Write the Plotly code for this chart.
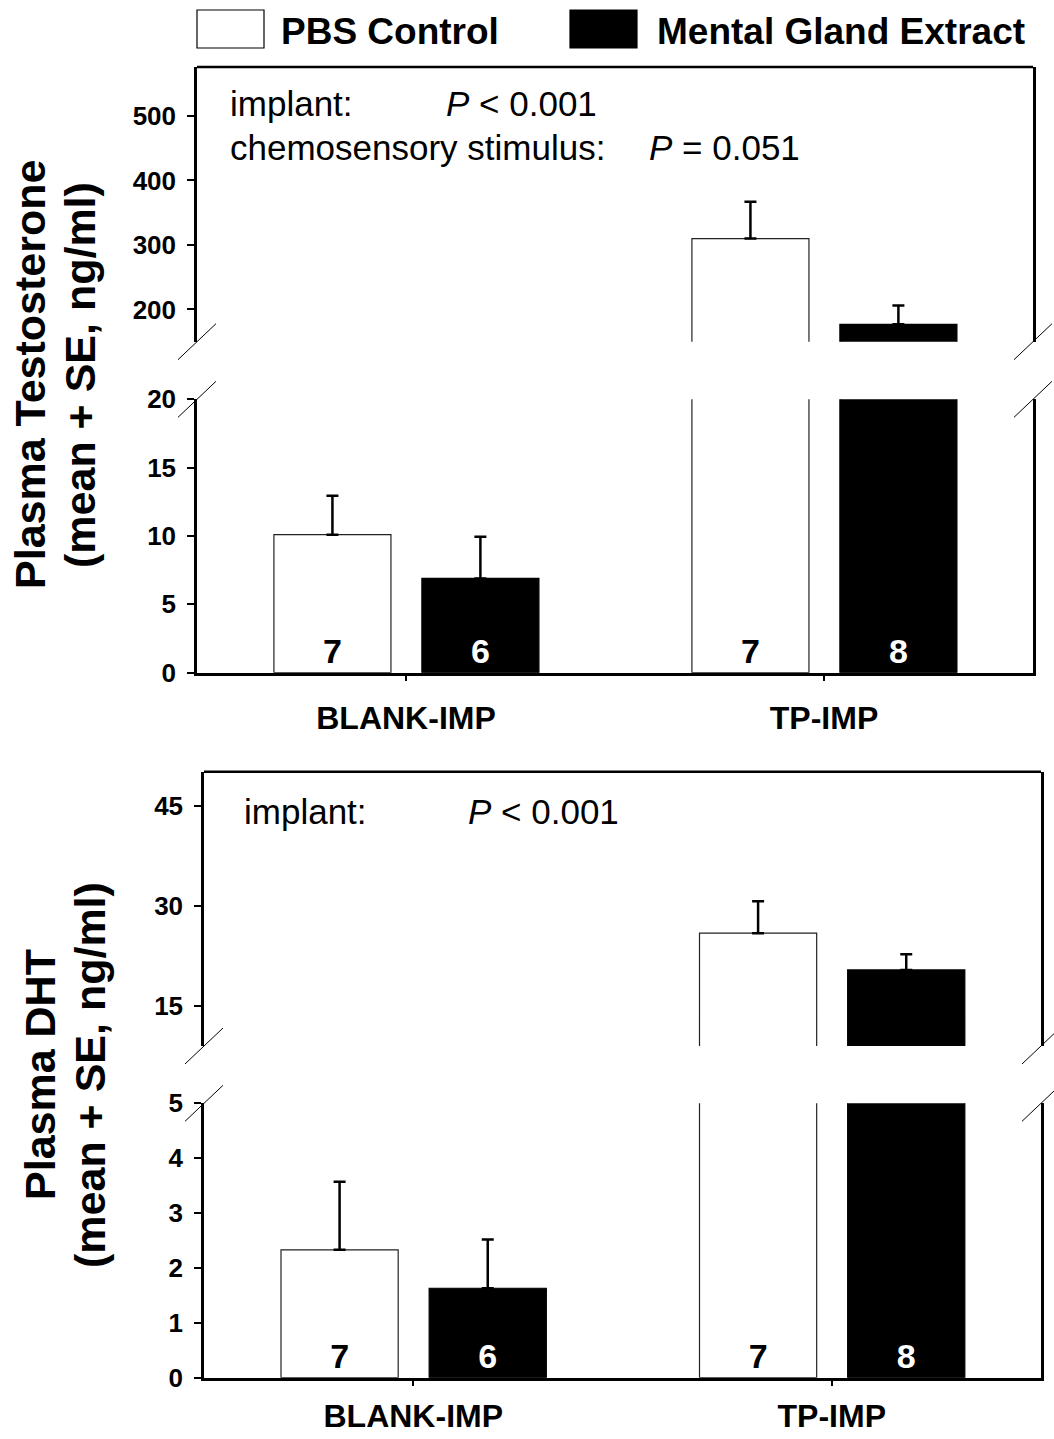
import plotly.graph_objects as go

# ---------------- data ----------------
groups = ["BLANK-IMP", "TP-IMP"]
series = ["PBS Control", "Mental Gland Extract"]

t_pbs_mean = [10.1, 310.0]
t_pbs_se = [2.85, 57.0]
t_mge_mean = [6.9, 177.0]
t_mge_se = [3.05, 29.0]

dht_pbs_mean = [2.33, 25.9]
dht_pbs_se = [1.24, 4.8]
dht_mge_mean = [1.63, 20.4]
dht_mge_se = [0.89, 2.35]

n_pbs = ["7", "7"]
n_mge = ["6", "8"]

t_upper_ticks = [200, 300, 400, 500]
t_lower_ticks = [0, 5, 10, 15, 20]
d_upper_ticks = [15, 30, 45]
d_lower_ticks = [0, 1, 2, 3, 4, 5]

# ---------------- layout geometry ----------------
W, H = 1054, 1439
FONT = "Liberation Sans, Arial, sans-serif"


def fx(px):
    return px / W


def fy(py):
    return 1 - py / H


BAR_W = 0.28
OFF_PBS = -0.316
OFF_MGE = 0.038

fig = go.Figure()


def add_bars(xa, ya, pbs_mean, pbs_se, mge_mean, mge_se, with_text):
    common = dict(xaxis=xa, yaxis=ya, width=BAR_W, showlegend=False,
                  cliponaxis=True, hoverinfo="skip")
    err = dict(type="data", symmetric=False, color="black", thickness=2.5, width=6)
    fig.add_trace(go.Bar(
        x=groups, y=pbs_mean, offset=OFF_PBS, name=series[0],
        marker=dict(color="white", line=dict(color="#222222", width=1.2)),
        error_y=dict(array=pbs_se, arrayminus=[0, 0], **err),
        text=n_pbs if with_text else None,
        textposition="inside" if with_text else "none",
        insidetextanchor="start", textangle=0,
        textfont=dict(family=FONT, size=34, color="black", weight="bold"),
        **common))
    fig.add_trace(go.Bar(
        x=groups, y=mge_mean, offset=OFF_MGE, name=series[1],
        marker=dict(color="black", line=dict(color="black", width=1.2)),
        error_y=dict(array=mge_se, arrayminus=[0, 0], **err),
        text=n_mge if with_text else None,
        textposition="inside" if with_text else "none",
        insidetextanchor="start", textangle=0,
        textfont=dict(family=FONT, size=34, color="white", weight="bold"),
        **common))


# top panel: y (lower 0-20), y2 (upper 150-576)
add_bars("x", "y", t_pbs_mean, t_pbs_se, t_mge_mean, t_mge_se, True)
add_bars("x", "y2", t_pbs_mean, t_pbs_se, t_mge_mean, t_mge_se, False)
# bottom panel: y3 (lower 0-5), y4 (upper 9-50)
add_bars("x2", "y3", dht_pbs_mean, dht_pbs_se, dht_mge_mean, dht_mge_se, True)
add_bars("x2", "y4", dht_pbs_mean, dht_pbs_se, dht_mge_mean, dht_mge_se, False)

tickfont = dict(family=FONT, size=26, color="black", weight="bold")
catfont = dict(family=FONT, size=32, color="black", weight="bold")
LW = 2.5


def yax(domain, rng, ticks, anchor):
    return dict(domain=domain, range=rng, tickvals=ticks, anchor=anchor,
                showline=True, linecolor="black", linewidth=LW, mirror=True,
                ticks="outside", ticklen=7, tickwidth=2, tickcolor="black",
                showgrid=False, zeroline=False, tickfont=tickfont,
                ticklabelstandoff=6, fixedrange=True, automargin=False)


def xax(domain, anchor, standoff):
    return dict(domain=domain, anchor=anchor, type="category",
                categoryorder="array", categoryarray=groups, range=[-0.5, 1.5],
                showline=True, linecolor="black", linewidth=LW, mirror=False,
                ticks="outside", ticklen=6, tickwidth=2, tickcolor="black",
                showgrid=False, zeroline=False, tickfont=catfont,
                ticklabelstandoff=standoff, fixedrange=True, automargin=False)


fig.update_layout(
    template="none",
    width=W, height=H,
    margin=dict(l=0, r=0, t=0, b=0, pad=0),
    paper_bgcolor="white", plot_bgcolor="rgba(0,0,0,0)",
    barmode="overlay",
    font=dict(family=FONT, color="black"),
    xaxis=xax([fx(197), fx(1033)], "y", 9),
    yaxis=yax([fy(672.7), fy(399.3)], [0, 20], t_lower_ticks, "x"),
    yaxis2=yax([fy(341.7), fy(67)], [150, 576], t_upper_ticks, "x"),
    xaxis2=xax([fx(204), fx(1041)], "y3", 2),
    yaxis3=yax([fy(1377.7), fy(1103.3)], [0, 5], d_lower_ticks, "x2"),
    yaxis4=yax([fy(1046), fy(771.7)], [9, 50.1], d_upper_ticks, "x2"),
)

shapes = []
# top borders of upper segments
for xr, yr in (("x", "y2"), ("x2", "y4")):
    shapes.append(dict(type="line", xref=f"{xr} domain", yref=f"{yr} domain",
                       x0=0, x1=1, y0=1, y1=1,
                       line=dict(color="black", width=LW)))
# axis break marks
for xr, yl, yu in (("x", "y", "y2"), ("x2", "y3", "y4")):
    for xa in (0, 1):
        for yr, ya in ((yu, 0), (yl, 1)):
            shapes.append(dict(type="line", xref=f"{xr} domain", yref=f"{yr} domain",
                               xsizemode="pixel", xanchor=xa, x0=-19, x1=19,
                               ysizemode="pixel", yanchor=ya, y0=-18, y1=18,
                               line=dict(color="black", width=1)))

# legend (drawn)
shapes.append(dict(type="rect", xref="paper", yref="paper",
                   x0=fx(197), x1=fx(264), y0=fy(48), y1=fy(10),
                   line=dict(color="black", width=1.2), fillcolor="white"))
shapes.append(dict(type="rect", xref="paper", yref="paper",
                   x0=fx(570), x1=fx(637), y0=fy(48), y1=fy(10),
                   line=dict(color="black", width=1.2), fillcolor="black"))
fig.update_layout(shapes=shapes)

legfont = dict(family=FONT, size=37, color="black", weight="bold")
annfont = dict(family=FONT, size=35, color="black")
titlefont = dict(family=FONT, size=43, color="black", weight="bold")

ann = [
    dict(text=series[0], x=fx(279), y=fy(32), xanchor="left", yanchor="middle", font=legfont),
    dict(text=series[1], x=fx(655), y=fy(32), xanchor="left", yanchor="middle", font=legfont),
    dict(text="implant:", x=fx(228), y=fy(103), xanchor="left", yanchor="middle", font=annfont),
    dict(text="<i>P</i> &lt; 0.001", x=fx(444), y=fy(103), xanchor="left", yanchor="middle", font=annfont),
    dict(text="chemosensory stimulus:", x=fx(228), y=fy(147), xanchor="left", yanchor="middle", font=annfont),
    dict(text="<i>P</i> = 0.051", x=fx(647), y=fy(147), xanchor="left", yanchor="middle", font=annfont),
    dict(text="implant:", x=fx(242), y=fy(811), xanchor="left", yanchor="middle", font=annfont),
    dict(text="<i>P</i> &lt; 0.001", x=fx(466), y=fy(811), xanchor="left", yanchor="middle", font=annfont),
    dict(text="Plasma Testosterone", x=fx(30), y=fy(375), textangle=-90, xanchor="center", yanchor="middle", font=titlefont),
    dict(text="(mean + SE, ng/ml)", x=fx(80), y=fy(375), textangle=-90, xanchor="center", yanchor="middle", font=titlefont),
    dict(text="Plasma DHT", x=fx(40), y=fy(1075), textangle=-90, xanchor="center", yanchor="middle", font=titlefont),
    dict(text="(mean + SE, ng/ml)", x=fx(90), y=fy(1075), textangle=-90, xanchor="center", yanchor="middle", font=titlefont),
]
for a in ann:
    a.update(xref="paper", yref="paper", showarrow=False)
fig.update_layout(annotations=ann)

fig.write_html("out.html", config={"displayModeBar": False},
               post_script="document.body.style.margin='0';document.body.style.overflow='hidden';")
